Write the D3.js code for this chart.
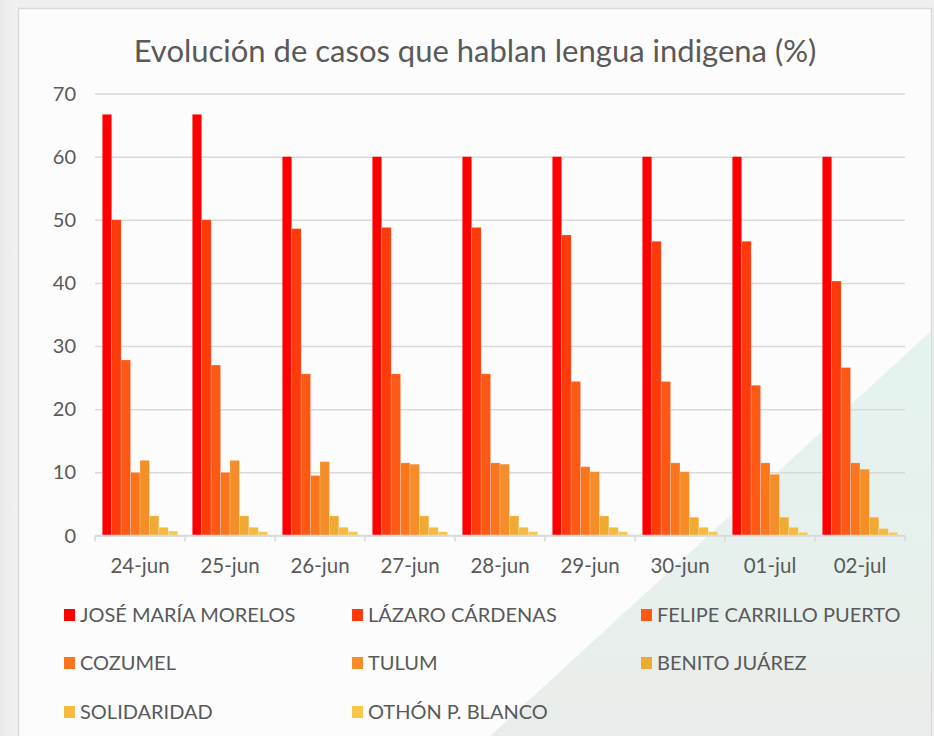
<!DOCTYPE html>
<html>
<head>
<meta charset="utf-8">
<script src="https://cdnjs.cloudflare.com/ajax/libs/d3/7.8.5/d3.min.js"></script>
<style>
  body { margin: 0; background: #ededed; }
  svg { display: block; }
  text { font-family: Lato, "Open Sans", sans-serif; fill: #595959; }
</style>
</head>
<body>
<svg id="chart"></svg>
<script>
// --- data ---
var dates = ['24-jun', '25-jun', '26-jun', '27-jun', '28-jun', '29-jun', '30-jun', '01-jul', '02-jul'];
var municipios = ['JOSÉ MARÍA MORELOS', 'LÁZARO CÁRDENAS', 'FELIPE CARRILLO PUERTO', 'COZUMEL',
                  'TULUM', 'BENITO JUÁREZ', 'SOLIDARIDAD', 'OTHÓN P. BLANCO'];
var joseMariaMorelos   = [66.7, 66.7, 60, 60, 60, 60, 60, 60, 60];
var lazaroCardenas     = [50, 50, 48.6, 48.8, 48.8, 47.6, 46.6, 46.6, 40.3];
var felipeCarrillo     = [27.8, 27.0, 25.6, 25.6, 25.6, 24.4, 24.4, 23.8, 26.6];
var cozumel            = [10, 10, 9.5, 11.5, 11.5, 10.9, 11.5, 11.5, 11.5];
var tulum              = [11.9, 11.9, 11.7, 11.3, 11.3, 10.1, 10.1, 9.7, 10.5];
var benitoJuarez       = [3.1, 3.1, 3.1, 3.1, 3.1, 3.1, 2.9, 2.9, 2.9];
var solidaridad        = [1.3, 1.3, 1.3, 1.3, 1.3, 1.3, 1.3, 1.3, 1.1];
var othonBlanco        = [0.7, 0.6, 0.6, 0.6, 0.6, 0.6, 0.6, 0.5, 0.5];
var yTicks = [0, 10, 20, 30, 40, 50, 60, 70];

var series = [joseMariaMorelos, lazaroCardenas, felipeCarrillo, cozumel, tulum, benitoJuarez, solidaridad, othonBlanco];
var colors = ['#ff0000', '#ff3b0b', '#fd5814', '#f9761e', '#f58e28', '#f0aa32', '#f5ba3e', '#f8c84b'];

var W = 934, H = 736;
var svg = d3.select('#chart').attr('width', W).attr('height', H);

// background: frame + green diagonal
var defs = svg.append('defs');
var g1 = defs.append('linearGradient').attr('id', 'bgL').attr('x1', 0).attr('y1', 0).attr('x2', 1).attr('y2', 0);
g1.append('stop').attr('offset', 0).attr('stop-color', '#e9e9e9');
g1.append('stop').attr('offset', 1).attr('stop-color', '#f3f3f3');
svg.append('rect').attr('width', W).attr('height', H).attr('fill', '#efefef');
svg.append('rect').attr('x', 0).attr('y', 0).attr('width', 18).attr('height', H).attr('fill', 'url(#bgL)');

svg.append('rect')
  .attr('x', 18.5).attr('y', 8.5).attr('width', 913).attr('height', 740)
  .attr('fill', '#fcfcfc').attr('stroke', '#d9d9d9').attr('stroke-width', 1.5);

var gr = defs.append('linearGradient').attr('id', 'green').attr('x1', 0).attr('y1', 0).attr('x2', 0).attr('y2', 1);
gr.append('stop').attr('offset', 0).attr('stop-color', '#e4f3ee');
gr.append('stop').attr('offset', 0.6).attr('stop-color', '#e7f0ec');
gr.append('stop').attr('offset', 1).attr('stop-color', '#e9ecea');
svg.append('polygon')
  .attr('points', '931,331 931,736 490,736')
  .attr('fill', 'url(#green)');

// title
svg.append('text')
  .attr('x', 475).attr('y', 62)
  .attr('text-anchor', 'middle')
  .style('font-size', '31px')
  .text('Evolución  de casos que hablan lengua indigena (%)');

// scales
var x = d3.scaleBand().domain(dates).range([95, 905]).paddingInner(0.162).paddingOuter(0.081);
var xs = d3.scaleBand().domain(d3.range(series.length)).range([0, x.bandwidth()]);
var y = d3.scaleLinear().domain([0, 70]).range([535.5, 93.5]);

// gridlines
svg.append('g')
  .attr('transform', 'translate(95,0)')
  .call(d3.axisLeft(y).tickValues(yTicks).tickSize(-810).tickFormat(''))
  .call(function(g) {
    g.select('.domain').remove();
    g.selectAll('line').attr('stroke', '#d9d9d9').attr('stroke-width', 1.5);
  });

// y labels
svg.append('g').selectAll('text')
  .data(yTicks).enter().append('text')
  .attr('x', 76).attr('y', function(d) { return y(d); })
  .attr('dy', '0.35em')
  .attr('text-anchor', 'end')
  .style('font-size', '20px')
  .text(function(d) { return d; });

// bars
var groups = svg.append('g').selectAll('g')
  .data(dates).enter().append('g')
  .attr('transform', function(d) { return 'translate(' + x(d) + ',0)'; });

groups.selectAll('rect')
  .data(function(d, i) { return series.map(function(s, k) { return { k: k, v: s[i] }; }); })
  .enter().append('rect')
  .attr('x', function(d) { return xs(d.k); })
  .attr('width', xs.bandwidth())
  .attr('y', function(d) { return y(d.v); })
  .attr('height', function(d) { return y(0) - y(d.v); })
  .attr('fill', function(d) { return colors[d.k]; })
  .attr('stroke', 'rgba(255,255,255,0.35)')
  .attr('stroke-width', 0.6);

// x axis
var xAxis = svg.append('g').attr('transform', 'translate(0,535.5)');
xAxis.append('line').attr('x1', 95).attr('x2', 905).attr('stroke', '#d9d9d9').attr('stroke-width', 1.5);
xAxis.selectAll('line.tick')
  .data(d3.range(dates.length + 1)).enter().append('line')
  .attr('class', 'tick')
  .attr('x1', function(i) { return 95 + i * x.step(); })
  .attr('x2', function(i) { return 95 + i * x.step(); })
  .attr('y1', 0).attr('y2', 6)
  .attr('stroke', '#d9d9d9').attr('stroke-width', 1.5);
xAxis.selectAll('text')
  .data(dates).enter().append('text')
  .attr('x', function(d) { return x(d) + x.bandwidth() / 2; })
  .attr('y', 37)
  .attr('text-anchor', 'middle')
  .style('font-size', '20.5px')
  .text(function(d) { return d; });

// legend
var legX = [64, 352, 641], legY = [615, 663, 712];
var leg = svg.append('g').selectAll('g')
  .data(municipios).enter().append('g')
  .attr('transform', function(d, i) { return 'translate(' + legX[i % 3] + ',' + legY[Math.floor(i / 3)] + ')'; });
leg.append('rect')
  .attr('x', 0).attr('y', -6).attr('width', 11).attr('height', 12)
  .attr('fill', function(d, i) { return colors[i]; });
leg.append('text')
  .attr('x', 16).attr('dy', '0.36em')
  .style('font-size', '20px')
  .text(function(d) { return d; });
</script>
</body>
</html>
